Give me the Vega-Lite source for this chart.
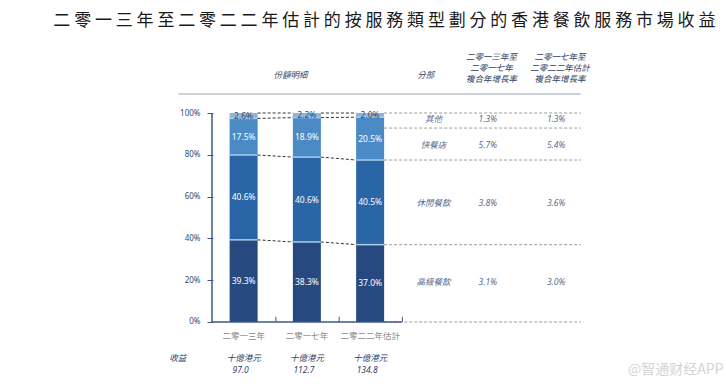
{
  "$schema": "https://vega.github.io/schema/vega-lite/v6.json",
  "width": 519,
  "height": 350,
  "autosize": {"type": "none"},
  "padding": {"left": 207, "top": 40, "right": 0, "bottom": 0},
  "background": "white",
  "config": {"view": {"stroke": null}, "font": "Noto Sans CJK TC"},
  "title": {
    "text": "二 零 一 三 年 至 二 零 二 二 年 估 計 的 按 服 務 類 型 劃 分 的 香 港 餐 飲 服 務 市 場 收 益",
    "anchor": "start",
    "dx": -116,
    "offset": 10,
    "fontSize": 17,
    "fontWeight": "normal",
    "color": "#1a1a1a",
    "font": "Noto Sans CJK TC"
  },
  "data": {"values": [{}]},
  "datasets": {
    "shares": [
      {"year": "二零一三年", "pos": 1, "seg": "高級餐飲", "order": 1, "share": 0.393},
      {"year": "二零一三年", "pos": 1, "seg": "休閒餐飲", "order": 2, "share": 0.406},
      {"year": "二零一三年", "pos": 1, "seg": "快餐店", "order": 3, "share": 0.175},
      {"year": "二零一三年", "pos": 1, "seg": "其他", "order": 4, "share": 0.026},
      {"year": "二零一七年", "pos": 2, "seg": "高級餐飲", "order": 1, "share": 0.383},
      {"year": "二零一七年", "pos": 2, "seg": "休閒餐飲", "order": 2, "share": 0.406},
      {"year": "二零一七年", "pos": 2, "seg": "快餐店", "order": 3, "share": 0.189},
      {"year": "二零一七年", "pos": 2, "seg": "其他", "order": 4, "share": 0.022},
      {"year": "二零二二年估計", "pos": 3, "seg": "高級餐飲", "order": 1, "share": 0.370},
      {"year": "二零二二年估計", "pos": 3, "seg": "休閒餐飲", "order": 2, "share": 0.405},
      {"year": "二零二二年估計", "pos": 3, "seg": "快餐店", "order": 3, "share": 0.205},
      {"year": "二零二二年估計", "pos": 3, "seg": "其他", "order": 4, "share": 0.020}
    ],
    "revenue": [
      {"year": "二零一三年", "pos": 1, "unit": "十億港元", "revenue": 97.0},
      {"year": "二零一七年", "pos": 2, "unit": "十億港元", "revenue": 112.7},
      {"year": "二零二二年估計", "pos": 3, "unit": "十億港元", "revenue": 134.8}
    ],
    "growth": [
      {"seg": "其他", "row": 0.971, "c1": 0.013, "c2": 0.013},
      {"seg": "快餐店", "row": 0.847, "c1": 0.057, "c2": 0.054},
      {"seg": "休閒餐飲", "row": 0.569, "c1": 0.038, "c2": 0.036},
      {"seg": "高級餐飲", "row": 0.191, "c1": 0.031, "c2": 0.030}
    ],
    "levels": [
      {"level": 1.0}, {"level": 0.928}, {"level": 0.775}, {"level": 0.37}, {"level": 0.0}
    ]
  },
  "layer": [
    {
      "data": {"name": "shares"},
      "transform": [
        {"stack": "share", "groupby": ["year"], "sort": [{"field": "order"}], "as": ["y0", "y1"]}
      ],
      "mark": {"type": "bar", "size": 28},
      "encoding": {
        "x": {"field": "pos", "type": "quantitative", "scale": {"type": "linear", "domain": [0.5, 8.547], "nice": false, "zero": false}, "axis": null},
        "y": {
          "field": "y0", "type": "quantitative",
          "scale": {"type": "linear", "domain": [-0.3254, 1.3493], "nice": false, "zero": false},
          "axis": {
            "values": [0, 0.2, 0.4, 0.6, 0.8, 1.0],
            "format": ".0%",
            "domain": false,
            "grid": false,
            "tickSize": -6,
            "tickColor": "#3d5a88",
            "labelPadding": 13,
            "labelFontSize": 8,
            "labelFont": "Noto Sans",
            "labelColor": "#3b4a6b",
            "title": null
          }
        },
        "y2": {"field": "y1"},
        "color": {
          "field": "seg", "type": "nominal",
          "scale": {"domain": ["高級餐飲", "休閒餐飲", "快餐店", "其他"], "range": ["#264a7f", "#2a65a7", "#4a8bc5", "#8cb5dc"]},
          "legend": null
        }
      }
    },
    {
      "data": {"name": "shares"},
      "transform": [
        {"stack": "share", "groupby": ["year"], "sort": [{"field": "order"}], "as": ["y0", "y1"]},
        {"filter": "datum.order < 4"}
      ],
      "mark": {"type": "rule", "xOffset": -14, "x2Offset": 14, "color": "#abcbeb", "strokeWidth": 1.5},
      "encoding": {
        "x": {"field": "pos", "type": "quantitative"},
        "x2": {"field": "pos"},
        "y": {"field": "y1", "type": "quantitative"}
      }
    },
    {
      "data": {"name": "shares"},
      "transform": [
        {"stack": "share", "groupby": ["year"], "sort": [{"field": "order"}], "as": ["y0", "y1"]},
        {"window": [{"op": "lead", "field": "y1", "as": "ny1"}, {"op": "lead", "field": "pos", "as": "npos"}], "groupby": ["seg"], "sort": [{"field": "pos", "order": "ascending"}]},
        {"filter": "datum.npos != null"}
      ],
      "mark": {"type": "rule", "xOffset": 14, "x2Offset": -14, "color": "#333333", "strokeWidth": 1, "strokeDash": [3, 2]},
      "encoding": {
        "x": {"field": "pos", "type": "quantitative"},
        "x2": {"field": "npos"},
        "y": {"field": "y1", "type": "quantitative"},
        "y2": {"field": "ny1"}
      }
    },
    {
      "data": {"name": "shares"},
      "transform": [
        {"stack": "share", "groupby": ["year"], "sort": [{"field": "order"}], "as": ["y0", "y1"]},
        {"calculate": "(datum.y0 + datum.y1) / 2", "as": "mid"}
      ],
      "mark": {"type": "text", "font": "Noto Sans", "fontSize": 8.5, "baseline": "middle"},
      "encoding": {
        "x": {"field": "pos", "type": "quantitative"},
        "y": {"field": "mid", "type": "quantitative"},
        "text": {"field": "share", "type": "quantitative", "format": ".1%"},
        "color": {"condition": {"test": "datum.order == 4", "value": "#3a4a70"}, "value": "white"}
      }
    },
    {
      "data": {"name": "levels"},
      "mark": {"type": "rule", "xOffset": 14, "color": "#9c9c9c", "strokeWidth": 1, "strokeDash": [3, 2]},
      "encoding": {
        "x": {"datum": 3, "type": "quantitative"},
        "x2": {"datum": 6.33},
        "y": {"field": "level", "type": "quantitative"}
      }
    },
    {
      "mark": {"type": "rule", "color": "#3d5a88", "strokeWidth": 1.5},
      "encoding": {
        "x": {"datum": 0.5, "type": "quantitative"},
        "y": {"datum": 0, "type": "quantitative"},
        "y2": {"datum": 1.0}
      }
    },
    {
      "mark": {"type": "rule", "color": "#3d5a88", "strokeWidth": 1.5},
      "encoding": {
        "x": {"datum": 0.5, "type": "quantitative"},
        "x2": {"datum": 3.5},
        "y": {"datum": 0, "type": "quantitative"}
      }
    },
    {
      "data": {"name": "revenue"},
      "mark": {"type": "rule", "xOffset": 32.25, "x2Offset": 32.25, "color": "#3d5a88", "strokeWidth": 1},
      "encoding": {
        "x": {"field": "pos", "type": "quantitative"},
        "y": {"datum": 0, "type": "quantitative"},
        "y2": {"datum": 0.025}
      }
    },
    {
      "data": {"name": "revenue"},
      "mark": {"type": "text", "fontSize": 8.5, "color": "#8a8a8a", "baseline": "middle"},
      "encoding": {
        "x": {"field": "pos", "type": "quantitative"},
        "y": {"datum": -0.067, "type": "quantitative"},
        "text": {"field": "year"}
      }
    },
    {
      "data": {"name": "revenue"},
      "mark": {"type": "text", "fontSize": 8.5, "fontStyle": "italic", "color": "#2e3f66", "baseline": "middle"},
      "encoding": {
        "x": {"field": "pos", "type": "quantitative"},
        "y": {"datum": -0.172, "type": "quantitative"},
        "text": {"field": "unit"}
      }
    },
    {
      "data": {"name": "revenue"},
      "mark": {"type": "text", "fontSize": 8.5, "fontStyle": "italic", "font": "Noto Sans", "color": "#2e3f66", "baseline": "middle", "dx": -3},
      "encoding": {
        "x": {"field": "pos", "type": "quantitative"},
        "y": {"datum": -0.23, "type": "quantitative"},
        "text": {"field": "revenue", "type": "quantitative", "format": ".1f"}
      }
    },
    {
      "mark": {"type": "text", "text": "收益", "fontSize": 8.5, "fontStyle": "italic", "color": "#2e3f66", "baseline": "middle"},
      "encoding": {
        "x": {"datum": -0.04, "type": "quantitative"},
        "y": {"datum": -0.172, "type": "quantitative"}
      }
    },
    {
      "mark": {"type": "text", "text": "份額明細", "fontSize": 8.5, "fontStyle": "italic", "color": "#3a4a70", "baseline": "middle"},
      "encoding": {
        "x": {"datum": 1.74, "type": "quantitative"},
        "y": {"datum": 1.182, "type": "quantitative"}
      }
    },
    {
      "mark": {"type": "text", "text": "分部", "fontSize": 8.5, "fontStyle": "italic", "color": "#3a4a70", "baseline": "middle"},
      "encoding": {
        "x": {"datum": 3.88, "type": "quantitative"},
        "y": {"datum": 1.182, "type": "quantitative"}
      }
    },
    {
      "mark": {"type": "text", "text": ["二零一三年至", "二零一七年", "複合年增長率"], "lineHeight": 11, "fontSize": 8.5, "fontStyle": "italic", "color": "#2e3f66", "baseline": "top"},
      "encoding": {
        "x": {"datum": 4.92, "type": "quantitative"},
        "y": {"datum": 1.285, "type": "quantitative"}
      }
    },
    {
      "mark": {"type": "text", "text": ["二零一七年至", "二零二二年估計", "複合年增長率"], "lineHeight": 11, "fontSize": 8.5, "fontStyle": "italic", "color": "#2e3f66", "baseline": "top"},
      "encoding": {
        "x": {"datum": 6.0, "type": "quantitative"},
        "y": {"datum": 1.285, "type": "quantitative"}
      }
    },
    {
      "mark": {"type": "rule", "color": "#9aa4b4", "strokeWidth": 1},
      "encoding": {
        "x": {"datum": -0.027, "type": "quantitative"},
        "x2": {"datum": 6.33},
        "y": {"datum": 1.091, "type": "quantitative"}
      }
    },
    {
      "data": {"name": "growth"},
      "mark": {"type": "text", "fontSize": 8.5, "fontStyle": "italic", "color": "#5a6b8e", "baseline": "middle"},
      "encoding": {
        "x": {"datum": 4.0, "type": "quantitative"},
        "y": {"field": "row", "type": "quantitative"},
        "text": {"field": "seg"}
      }
    },
    {
      "data": {"name": "growth"},
      "mark": {"type": "text", "fontSize": 8.5, "fontStyle": "italic", "font": "Noto Sans", "color": "#5a6b8e", "baseline": "middle"},
      "encoding": {
        "x": {"datum": 4.86, "type": "quantitative"},
        "y": {"field": "row", "type": "quantitative"},
        "text": {"field": "c1", "type": "quantitative", "format": ".1%"}
      }
    },
    {
      "data": {"name": "growth"},
      "mark": {"type": "text", "fontSize": 8.5, "fontStyle": "italic", "font": "Noto Sans", "color": "#5a6b8e", "baseline": "middle"},
      "encoding": {
        "x": {"datum": 5.94, "type": "quantitative"},
        "y": {"field": "row", "type": "quantitative"},
        "text": {"field": "c2", "type": "quantitative", "format": ".1%"}
      }
    },
    {
      "mark": {"type": "text", "text": "@智通财经APP", "fontSize": 14, "font": "Noto Sans CJK SC", "color": "#d4d4d4", "baseline": "middle"},
      "encoding": {
        "x": {"datum": 7.83, "type": "quantitative"},
        "y": {"datum": -0.23, "type": "quantitative"}
      }
    }
  ]
}
